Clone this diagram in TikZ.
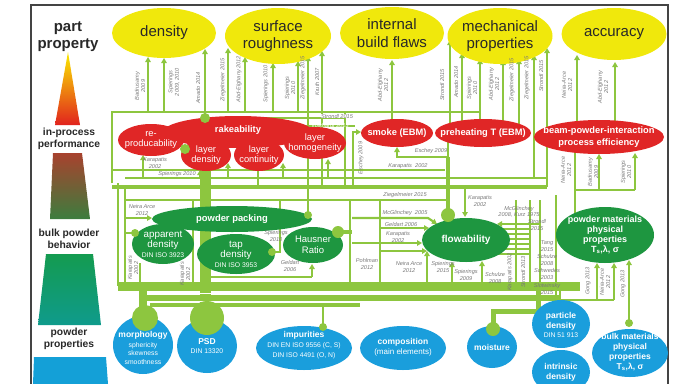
\documentclass[tikz,border=0pt]{standalone}
\usepackage{fontspec}
\setmainfont{Liberation Sans}
\usetikzlibrary{shapes.geometric,arrows.meta}
\definecolor{lg}{RGB}{141,198,63}
\definecolor{yel}{RGB}{240,232,12}
\definecolor{rd}{RGB}{224,38,38}
\definecolor{dg}{RGB}{30,150,64}
\definecolor{bl}{RGB}{26,158,220}
\definecolor{cg}{RGB}{120,120,120}
\definecolor{fr}{RGB}{68,68,68}
\definecolor{tx}{RGB}{40,40,40}
\definecolor{pyA}{RGB}{250,235,0}
\definecolor{pyB}{RGB}{240,140,30}
\definecolor{pyC}{RGB}{225,35,30}
\definecolor{pyD}{RGB}{168,66,46}
\definecolor{pyE}{RGB}{60,125,62}
\definecolor{pyF}{RGB}{20,155,80}
\definecolor{pyG}{RGB}{15,155,140}
\definecolor{pyH}{RGB}{20,160,215}
\newcommand\smf{\fontsize{6.8}{7.6}\selectfont}
\begin{document}
\begin{tikzpicture}[x=1pt,y=-1pt,
  gln/.style={draw=lg,line width=2.2pt},
  gthk/.style={draw=lg,line width=4.5pt},
  garr/.style={draw=lg,line width=2.2pt,-{Triangle[length=5pt,width=5.5pt]}},
  ellb/.style={ellipse,inner sep=0pt,draw=none},
  elly/.style={ellb,fill=yel},
  ellr/.style={ellb,fill=rd},
  ellg/.style={ellb,fill=dg},
  ellbl/.style={ellb,fill=bl},
  ytext/.style={text=tx,font=\fontsize{15}{17.5}\selectfont,align=center,inner sep=0pt},
  rbold/.style={text=white,font=\fontsize{9.3}{11.2}\selectfont\bfseries,align=center,inner sep=0pt},
  rreg/.style={text=white,font=\fontsize{9.3}{10.5}\selectfont,align=center,inner sep=0pt},
  wbold/.style={text=white,font=\fontsize{8.5}{9.8}\selectfont\bfseries,align=center,inner sep=0pt},
  pyrtext/.style={text=tx,font=\fontsize{10.3}{12}\selectfont\bfseries,align=center,inner sep=0pt},
  cite/.style={text=cg,font=\fontsize{5.6}{6.4}\selectfont\itshape,align=center,inner sep=0.4pt},
  citer/.style={cite,rotate=90},
]
\useasboundingbox (0,0) rectangle (684,383);
% frame
\draw[fr,line width=2pt] (31,384)--(31,5)--(668,5)--(668,384);
% pyramid
\shade[top color=pyA,middle color=pyB,bottom color=pyC] (68,52)--(80,125)--(55,125)--cycle;
\shade[top color=pyD,bottom color=pyE] (53,153)--(82,153)--(90,219)--(50,219)--cycle;
\shade[top color=pyF,bottom color=pyG] (46,254)--(93,254)--(101,325)--(38,325)--cycle;
\fill[pyH] (34,357)--(106,357)--(108,384)--(33,384)--cycle;
\node[pyrtext,font=\fontsize{15}{17}\selectfont\bfseries] (pp) at (68,37) {part\\property};
\node[pyrtext] (ipp) at (69,139) {in-process\\performance};
\node[pyrtext] (bpb) at (69,239) {bulk powder\\behavior};
\node[pyrtext] (ppr) at (69,339) {powder\\properties};

% ---------------- green connectors (under nodes) ----------------
\draw[gln] (112,183)--(112,112)--(480,112);
\draw[gln] (215,118)--(345,118);
\foreach \x/\t in {148/57,164/58,228/48,245/57,273/63,298/61,308/56,322/51,392/60,450/40,462/53,480/59}
  \draw[garr] (\x,112)--(\x,\t);
\draw[gln] (308,112)--(308,215);
\draw[gln] (322,112)--(322,187);
\foreach \x in {392,450,462,480} \draw[gln] (\x,112)--(\x,126);
\draw[garr] (205,122)--(205,49);
\draw[garr] (503,130)--(503,60);
\draw[garr] (519,130)--(519,59);
\draw[garr] (534,178)--(534,55);
\draw[garr] (547,187)--(547,48);
\draw[garr] (577,135)--(577,55);
\draw[garr] (615,135)--(615,62);
% middle buses
\draw[gln] (112,170)--(445,170);
\draw[gln] (125,178)--(547,178);
\draw[gthk] (112,187)--(547,187);
\draw[garr] (143,178)--(143,155);
\draw[garr] (200,178)--(200,170);
\draw[garr] (228,178)--(228,163);
\draw[garr] (283,178)--(283,163);
\draw[garr] (328,178)--(328,159);
\draw[gln] (258,160)--(258,187);
\draw[gln] (345,112)--(345,187);
\draw[gln] (300,126)--(355,126);
\draw[garr] (353,187)--(353,132)--(361,132);
\draw[garr] (448,140)--(448,157)--(397,157)--(397,147);
\draw[gthk] (448,157)--(448,215);
\draw[garr] (465,187)--(465,217);
\draw[gln] (575,150)--(575,215);
\draw[gln] (575,190)--(635,190);
\draw[garr] (599,190)--(599,154);
\draw[garr] (635,190)--(635,153);
% green level
\draw[gln] (118,183)--(118,286);
\draw[gln] (125,186)--(125,286);
\draw[gln] (125,200)--(448,200);
\draw[garr] (125,218)--(152,218);
\draw[gln] (125,233)--(135,233);
\draw[gln] (140,263)--(140,286);
\draw[gln] (193,200)--(193,286);
\draw[lg,line width=11pt] (205,160)--(205,318);
\draw[gln] (272,252)--(280,252)--(280,200);
\draw[gthk] (338,232)--(352,232);
\draw[gln] (350,200)--(350,286);
\draw[gln] (380,200)--(380,286);
\draw[gln] (205,277)--(312,277);
\draw[garr] (312,277)--(312,264);
\draw[garr] (352,218)--(428,218)--(437,224);
\draw[garr] (380,228)--(429,228);
\draw[garr] (352,243)--(422,243);
\draw[garr] (380,251)--(427,251);
\draw[garr] (427,286)--(427,251);
\draw[garr] (452,286)--(452,262);
\draw[garr] (482,286)--(482,261);
\foreach \y in {229,234,239,244,249,254} \draw[draw=lg,line width=1.6pt] (495,\y)--(530,\y);
\draw[garr] (540,224)--(497,224);
\foreach \x in {516,530} \draw[gln] (\x,200)--(\x,286);
\draw[gln] (540,200)--(540,300);
\draw[gln] (556,195)--(556,300);
% bottom band
\draw[lg,line width=9pt] (118,286)--(580,286);
\draw[lg,line width=6pt] (145,298)--(560,298);
\draw[lg,line width=4pt] (150,305)--(360,305);
\draw[white,line width=1.3pt] (150,293.5)--(355,293.5) (361,293.5)--(555,293.5);
\draw[white,line width=1.3pt] (153,301.5)--(355,301.5);
\draw[lg,line width=8pt] (143,286)--(143,318);
\draw[lg,line width=2.5pt] (323,305)--(323,327);
\draw[lg,line width=5pt] (493,329)--(493,311)--(538,311)--(538,286);
\draw[gln] (560,286)--(560,302);
\draw[gln] (560,300)--(614,300);
\draw[garr] (597,300)--(597,263);
\draw[garr] (614,300)--(614,263);
\draw[garr] (629,323)--(629,260);

% ---------------- nodes ----------------
\node[elly,minimum width=104,minimum height=50] (dens) at (164,33) {};
\node[elly,minimum width=106,minimum height=56] (surf) at (278,36) {};
\node[elly,minimum width=104,minimum height=52] (ibf) at (392,33) {};
\node[elly,minimum width=105,minimum height=56] (mech) at (500,36) {};
\node[elly,minimum width=105,minimum height=52] (acc) at (614,34) {};
\node[ytext] at (dens) {density};
\node[ytext] at (surf) {surface\\roughness};
\node[ytext] at (ibf) {internal\\build flaws};
\node[ytext] at (mech) {mechanical\\properties};
\node[ytext] at (acc) {accuracy};

\node[ellr,minimum width=150,minimum height=32] (rake) at (238,132) {};
\node[ellr,minimum width=66,minimum height=32] (repro) at (151,140) {};
\node[ellr,minimum width=50,minimum height=32] (ldens) at (206,155) {};
\node[ellr,minimum width=50,minimum height=32] (lcont) at (259,155) {};
\node[ellr,minimum width=62,minimum height=32] (lhom) at (315,143) {};
\node[ellr,minimum width=72,minimum height=28] (smoke) at (397,133) {};
\node[ellr,minimum width=96,minimum height=28] (preh) at (483,133) {};
\node[ellr,minimum width=130,minimum height=34] (beam) at (599,137) {};
\node[rbold] at (238,130) {rakeability};
\node[rreg] at (repro) {re-\\producability};
\node[rreg] at (ldens) {layer\\density};
\node[rreg] at (lcont) {layer\\continuity};
\node[rreg] at (lhom) {layer\\homogeneity};
\node[rbold] at (smoke) {smoke (EBM)};
\node[rbold] at (preh) {preheating T (EBM)};
\node[rbold] at (beam) {beam-powder-interaction\\process efficiency};

\node[ellg,minimum width=160,minimum height=26] (pack) at (232,219) {};
\node[ellg,minimum width=62,minimum height=40] (appd) at (163,244) {};
\node[ellg,minimum width=78,minimum height=40] (tapd) at (236,254) {};
\node[ellg,minimum width=60,minimum height=36] (haus) at (313,245) {};
\node[ellg,minimum width=88,minimum height=44] (flow) at (466,240) {};
\node[ellg,minimum width=98,minimum height=56] (pmat) at (605,235) {};
\node[wbold,font=\fontsize{9.4}{11}\selectfont\bfseries] at (pack) {powder packing};
\node[rreg,font=\fontsize{9.8}{10}\selectfont] at (appd) {apparent\\density\\{\smf DIN ISO 3923}};
\node[rreg,font=\fontsize{9.8}{10}\selectfont] at (tapd) {tap\\density\\{\smf DIN ISO 3953}};
\node[rreg,font=\fontsize{9.5}{11}\selectfont] at (haus) {Hausner\\Ratio};
\node[wbold,font=\fontsize{10}{11}\selectfont\bfseries] at (flow) {flowability};
\node[wbold,font=\fontsize{9}{10}\selectfont\bfseries] at (pmat) {powder materials\\physical\\properties\\T\textsubscript{s},λ, σ};

\node[ellbl,minimum width=60,minimum height=58] (morph) at (143,345) {};
\node[ellbl,minimum width=60,minimum height=54] (psd) at (207,346) {};
\node[ellbl,minimum width=96,minimum height=44] (imp) at (304,348) {};
\node[ellbl,minimum width=86,minimum height=44] (comp) at (403,348) {};
\node[ellbl,minimum width=50,minimum height=42] (moist) at (492,347) {};
\node[ellbl,minimum width=58,minimum height=48] (pdens) at (561,324) {};
\node[ellbl,minimum width=58,minimum height=44] (intr) at (561,372) {};
\node[ellbl,minimum width=76,minimum height=48] (bulk) at (630,353) {};

% dots
\fill[lg] (205,118) circle (5pt);
\fill[lg] (185,149) circle (5pt);
\fill[lg] (308,215) circle (4pt);
\fill[lg] (135,233) circle (4pt);
\fill[lg] (272,252) circle (4pt);
\fill[lg] (338,232) circle (6pt);
\fill[lg] (448,215) circle (7pt);
\fill[lg] (145,318) circle (13pt);
\fill[lg] (207,318) circle (17pt);
\fill[lg] (323,327) circle (4pt);
\fill[lg] (493,329) circle (7pt);
\fill[lg] (629,323) circle (4pt);

\node[wbold] at (143,348) {morphology\\{\smf\mdseries sphericity}\\[-1.5pt]{\smf\mdseries skewness}\\[-1.5pt]{\smf\mdseries smoothness}};
\node[wbold] at (207,346) {PSD\\{\smf\mdseries DIN 13320}};
\node[wbold] at (304,345) {impurities\\{\smf\mdseries DIN EN ISO 9556 (C, S)}\\{\smf\mdseries DIN ISO 4491 (O, N)}};
\node[wbold] at (403,347) {composition\\{\fontsize{8}{9}\selectfont\mdseries (main elements)}};
\node[wbold] at (492,347) {moisture};
\node[wbold] at (561,325) {particle\\density\\{\smf\mdseries DIN 51 913}};
\node[wbold] at (561,372) {intrinsic\\density};
\node[wbold] at (630,352) {bulk materials\\physical\\properties\\T\textsubscript{s},λ, σ};

% ---------------- citations ----------------
\node[citer] at (140,86) {Badrusamy\\2009};
\node[citer] at (174,82) {Spierings\\2009, 2010};
\node[citer] at (198,88) {Amado 2014};
\node[citer] at (223,80) {Ziegelmeier 2015};
\node[citer] at (239,79) {Abd-Elghany 2012};
\node[citer] at (266,84) {Spierings 2010};
\node[citer] at (290,88) {Spierings\\2010};
\node[citer] at (303,78) {Ziegelmeier 2015};
\node[citer] at (317,82) {Kruth 2007};
\node[citer] at (383,85) {Abd-Elghany\\2012};
\node[citer] at (442,85) {Strondl 2015};
\node[citer] at (456,82) {Amado 2014};
\node[citer] at (472,88) {Spierings\\2010};
\node[citer] at (494,84) {Abd-Elghany\\2012};
\node[citer] at (512,80) {Ziegelmeier 2015};
\node[citer] at (527,78) {Ziegelmeier 2015};
\node[citer] at (541,76) {Strondl 2015};
\node[citer] at (567,85) {Neira-Arce\\2012};
\node[citer] at (603,87) {Abd-Elghany\\2012};

\node[cite,fill=white] at (337,116) {Strondl 2015};
\node[cite,text=white] at (330,125.5) {Volkhardt 2013};
\node[citer] at (361,158) {Eschey 2009};
\node[cite] at (431,151) {Eschey 2009};
\node[cite] at (408,166) {Karapatis\ \ 2002};
\node[cite] at (155,163) {Karapatis\\2002};
\node[cite] at (177,174) {Spierings 2010};
\node[citer] at (566,170) {Neira-Arce\\2012};
\node[citer] at (593,172) {Badrusamy\\2009};
\node[citer] at (626,172) {Spierings\\2010};

\node[cite] at (142,210) {Neira Arce\\2012};
\node[cite] at (276,236) {Spierings\\2010};
\node[cite] at (290,266) {Geldart\\2006};
\node[citer] at (133,268) {Karapatis\\2002};
\node[citer] at (185,274) {Karapatis\\2002};
\node[cite] at (405,195) {Ziegelmeier 2015};
\node[cite] at (405,213) {McGlinchey\ \ 2005};
\node[cite] at (401,224) {Geldart 2006};
\node[cite] at (398,237) {Karapatis\\2002};
\node[cite] at (480,201) {Karapatis\\2002};
\node[cite] at (367,264) {Pohlman\\2012};
\node[cite] at (409,267) {Neira Arce\\2012};
\node[cite] at (443,267) {Spierings\\2015};
\node[cite] at (466,275) {Spierings\\2009};
\node[cite] at (495,278) {Schulze\\2008};
\node[citer] at (510,272) {Karapatis 2002};
\node[citer] at (523,272) {Strondl 2013};
\node[cite] at (519,212) {McGlinchey\\2008, Kurz 1975};
\node[cite] at (537,225) {Strondl\\2015};
\node[cite] at (547,246) {Tang\\2015};
\node[cite] at (547,260) {Schulze\\2008};
\node[cite] at (547,274) {Schwedes\\2003};
\node[cite] at (547,289) {Slotwinsky\\2015};
\node[citer] at (588,281) {Gong 2013};
\node[citer] at (605,282) {Neira-Arce\\2012};
\node[citer] at (623,284) {Gong 2013};
\end{tikzpicture}
\end{document}
